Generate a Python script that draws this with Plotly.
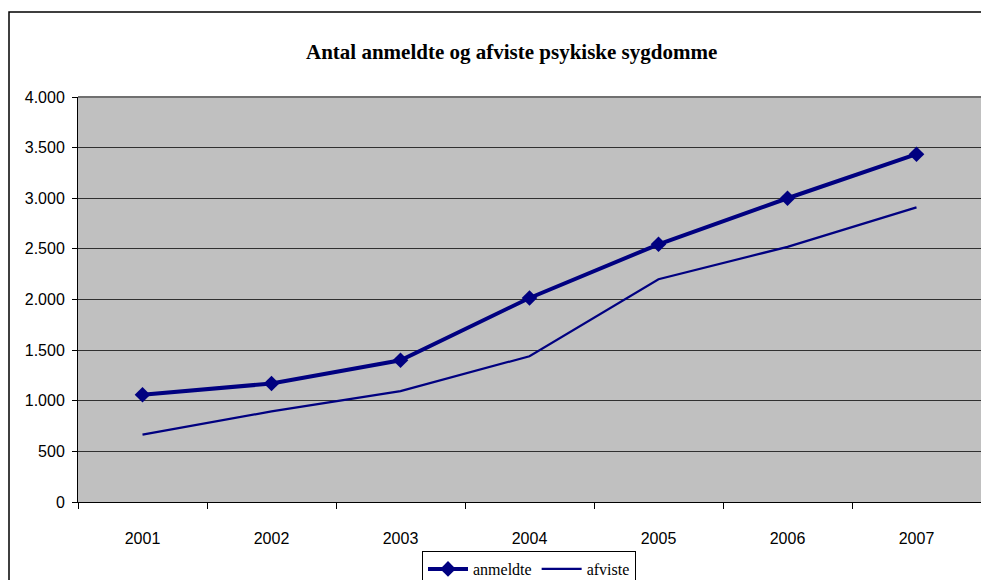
import plotly.graph_objects as go

years = ["2001", "2002", "2003", "2004", "2005", "2006", "2007"]
anmeldte = [1060, 1170, 1400, 2015, 2545, 3000, 3435]
afviste = [665, 895, 1095, 1440, 2200, 2520, 2910]
y_ticks = [0, 500, 1000, 1500, 2000, 2500, 3000, 3500, 4000]

NAVY = "#000080"

fig = go.Figure()
fig.add_trace(go.Scatter(
    x=years, y=anmeldte, name="anmeldte", mode="lines+markers",
    line=dict(color=NAVY, width=4),
    marker=dict(symbol="diamond", size=12, color=NAVY),
))
fig.add_trace(go.Scatter(
    x=years, y=afviste, name="afviste", mode="lines",
    line=dict(color=NAVY, width=2.2),
))

W, H = 981, 580
L, T, B = 78, 97, 78
pw = W - L
ph = H - T - B

def px(x):
    return (x - L) / pw

def py(y):
    return (H - B - y) / ph

fig.update_layout(
    width=W, height=H,
    margin=dict(l=L, r=0, t=T, b=B, pad=0, autoexpand=False),
    paper_bgcolor="white",
    plot_bgcolor="#C0C0C0",
    separators=",.",
    showlegend=True,
    legend=dict(
        orientation="h",
        xref="container", yref="container",
        x=422 / W, y=1 - 551 / H, xanchor="left", yanchor="top",
        bordercolor="black", borderwidth=1, bgcolor="white",
        font=dict(family="Liberation Serif, Times New Roman, serif", size=16, color="black"),
        itemwidth=40, tracegroupgap=0,
    ),
    xaxis=dict(
        type="category", range=[-0.5, 6.5],
        showgrid=False, showline=True, linecolor="black", linewidth=1,
        ticks="outside", tickson="boundaries", ticklen=6, tickcolor="black",
        tickfont=dict(family="Liberation Sans, Arial, sans-serif", size=16, color="black"),
        ticklabelstandoff=22,
        zeroline=False,
    ),
    yaxis=dict(
        range=[0, 4000], tickvals=y_ticks, tickformat=",d",
        showgrid=True, gridcolor="#303030", gridwidth=1,
        showline=True, linecolor="black", linewidth=1,
        ticks="outside", ticklen=5, tickcolor="black",
        tickfont=dict(family="Liberation Sans, Arial, sans-serif", size=16, color="black"),
        ticklabelstandoff=4,
        zeroline=False,
    ),
    shapes=[
        dict(type="rect", xref="paper", yref="paper",
             x0=px(9), x1=px(W + 5), y0=py(H + 10), y1=py(12),
             line=dict(color="black", width=1.5), fillcolor="rgba(0,0,0,0)", layer="below"),
        dict(type="line", xref="paper", yref="paper",
             x0=0, x1=1, y0=1, y1=1, line=dict(color="#707070", width=2)),
    ],
    annotations=[
        dict(text="<b>Antal anmeldte og afviste psykiske sygdomme</b>",
             xref="paper", yref="paper", x=px(511), y=py(52),
             xanchor="center", yanchor="middle", showarrow=False,
             font=dict(family="Liberation Serif, Times New Roman, serif", size=21, color="black")),
    ],
)

fig.write_html("out.html")
